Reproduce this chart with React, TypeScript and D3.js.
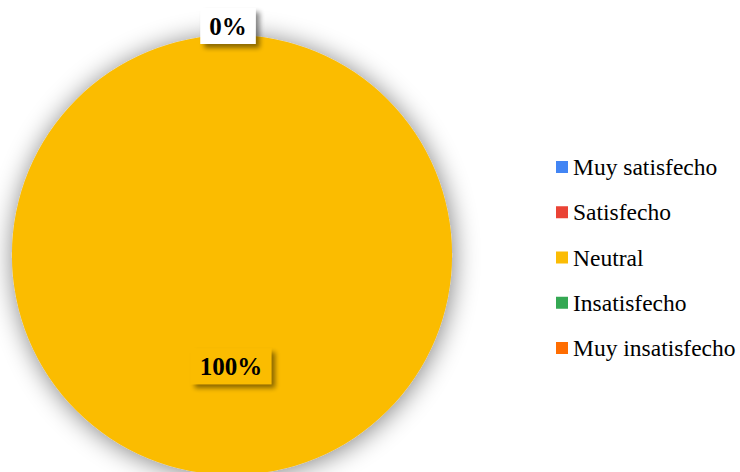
import React from "react";
import * as d3 from "d3";

const categories = ["Muy satisfecho", "Satisfecho", "Neutral", "Insatisfecho", "Muy insatisfecho"];
const values = [0, 0, 100, 0, 0];
const colors = ["#4285F4", "#EA4335", "#FBBC04", "#34A853", "#FF6D01"];

const W = 740;
const H = 472;
const FONT = "Liberation Serif, Times New Roman, serif";

function measure(text: string, font: string): number {
  if (typeof document === "undefined") return text.length * 12;
  const c = document.createElement("canvas");
  const ctx = c.getContext("2d");
  if (!ctx) return text.length * 12;
  ctx.font = font;
  return ctx.measureText(text).width;
}

export default function App() {
  const cx = 232;
  const cy = 255;
  const r = 220;
  const total = d3.sum(values);
  const pie = d3.pie<number>().sort(null).value((d) => d);
  const arcs = pie(values);
  const arcGen = d3.arc<d3.PieArcDatum<number>>().innerRadius(0).outerRadius(r);
  const fmt = (v: number) => `${Math.round((v / total) * 100)}%`;

  const labels: { x: number; y: number; text: string; fill: string }[] = [];
  let zeroShown = false;
  arcs.forEach((a, i) => {
    const mid = (a.startAngle + a.endAngle) / 2;
    if (a.value === 0) {
      if (zeroShown) return;
      zeroShown = true;
      const rr = r + 9;
      labels.push({ x: Math.sin(mid) * rr - 4, y: -Math.cos(mid) * rr, text: fmt(a.value), fill: "#ffffff" });
    } else {
      const rr = r * 0.505;
      labels.push({ x: Math.sin(mid) * rr - 1, y: -Math.cos(mid) * rr, text: fmt(a.value), fill: colors[i] });
    }
  });

  const labelFontSize = 25;
  const legendY = d3.scalePoint<string>().domain(categories).range([167, 348]);

  return (
    <svg width={W} height={H} style={{ position: "absolute", left: 0, top: 0, background: "#fff" }}>
      <defs>
        <filter id="pieShadow" x="-30%" y="-30%" width="160%" height="160%">
          <feGaussianBlur in="SourceAlpha" stdDeviation="13" />
          <feOffset dx="1" dy="2" result="b" />
          <feComponentTransfer in="b" result="s">
            <feFuncA type="linear" slope="0.5" />
          </feComponentTransfer>
          <feMerge>
            <feMergeNode in="s" />
            <feMergeNode in="SourceGraphic" />
          </feMerge>
        </filter>
        <filter id="boxShadow" x="-40%" y="-40%" width="180%" height="180%">
          <feGaussianBlur in="SourceAlpha" stdDeviation="2.5" />
          <feOffset dx="4" dy="4" result="b" />
          <feComponentTransfer in="b" result="s">
            <feFuncA type="linear" slope="0.45" />
          </feComponentTransfer>
          <feMerge>
            <feMergeNode in="s" />
            <feMergeNode in="SourceGraphic" />
          </feMerge>
        </filter>
      </defs>
      <g transform={`translate(${cx},${cy})`}>
        <g filter="url(#pieShadow)">
          {arcs.map((a, i) =>
            a.value > 0 ? <path key={i} d={arcGen(a) || ""} fill={colors[i]} /> : null
          )}
        </g>
        {labels.map((l, i) => {
          const tw = measure(l.text, `bold ${labelFontSize}px ${FONT}`);
          const bw = tw + 18;
          const bh = 36;
          return (
            <g key={i} transform={`translate(${l.x},${l.y})`}>
              <rect x={-bw / 2} y={-bh / 2} width={bw} height={bh} fill={l.fill} filter="url(#boxShadow)" />
              <text
                x={0}
                y={0}
                dy="0.35em"
                textAnchor="middle"
                fontFamily={FONT}
                fontWeight="bold"
                fontSize={labelFontSize}
                fill="#000"
              >
                {l.text}
              </text>
            </g>
          );
        })}
      </g>
      <g>
        {categories.map((c, i) => (
          <g key={c} transform={`translate(556,${legendY(c)})`}>
            <rect x={0} y={-6} width={12} height={12} fill={colors[i]} />
            <text x={17} y={0} dy="0.35em" fontFamily={FONT} fontSize={23.5} fill="#000">
              {c}
            </text>
          </g>
        ))}
      </g>
    </svg>
  );
}
